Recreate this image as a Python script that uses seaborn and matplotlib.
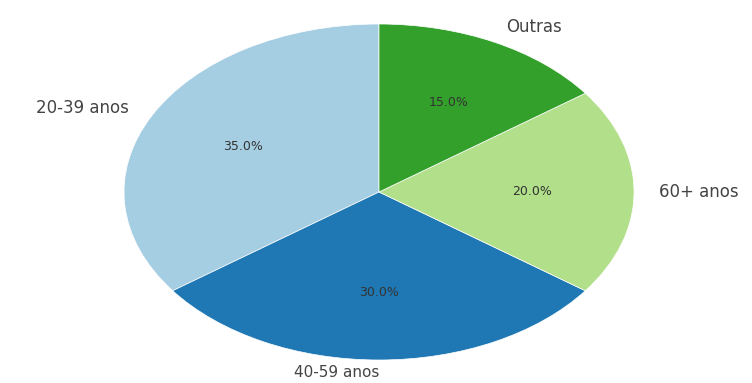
import matplotlib
matplotlib.use("Agg")
import matplotlib.pyplot as plt
import seaborn as sns

categories = ["20-39 anos", "40-59 anos", "60+ anos", "Outras"]
values = [35.0, 30.0, 20.0, 15.0]

sns.set_theme(style="white")
plt.rcParams['font.family'] = ['DejaVu Sans']
colors = sns.color_palette("Paired", 4)

fig = plt.figure(figsize=(7.52, 3.83), dpi=100)
ax = fig.add_axes([0, 0, 1, 1])
wedges, texts, autotexts = ax.pie(
    values, labels=categories, colors=colors, startangle=90,
    autopct="%1.1f%%", pctdistance=0.6, labeldistance=1.1,
    wedgeprops=dict(edgecolor="white", linewidth=0.5),
    textprops=dict(color="#444444", fontsize=12),
)
texts[1].set_horizontalalignment("right")
texts[1].set_verticalalignment("center")
texts[1].set_y(-1.075)
texts[1].set_fontsize(11)
for t in autotexts:
    t.set_fontsize(9)
    t.set_color("#333333")
ax.set_aspect("auto")
ax.set_xlim(-379 / 255, (752 - 379) / 255)
ax.set_ylim(-(383 - 192) / 168, 192 / 168)
ax.axis("off")
fig.savefig("out.png", dpi=100)
